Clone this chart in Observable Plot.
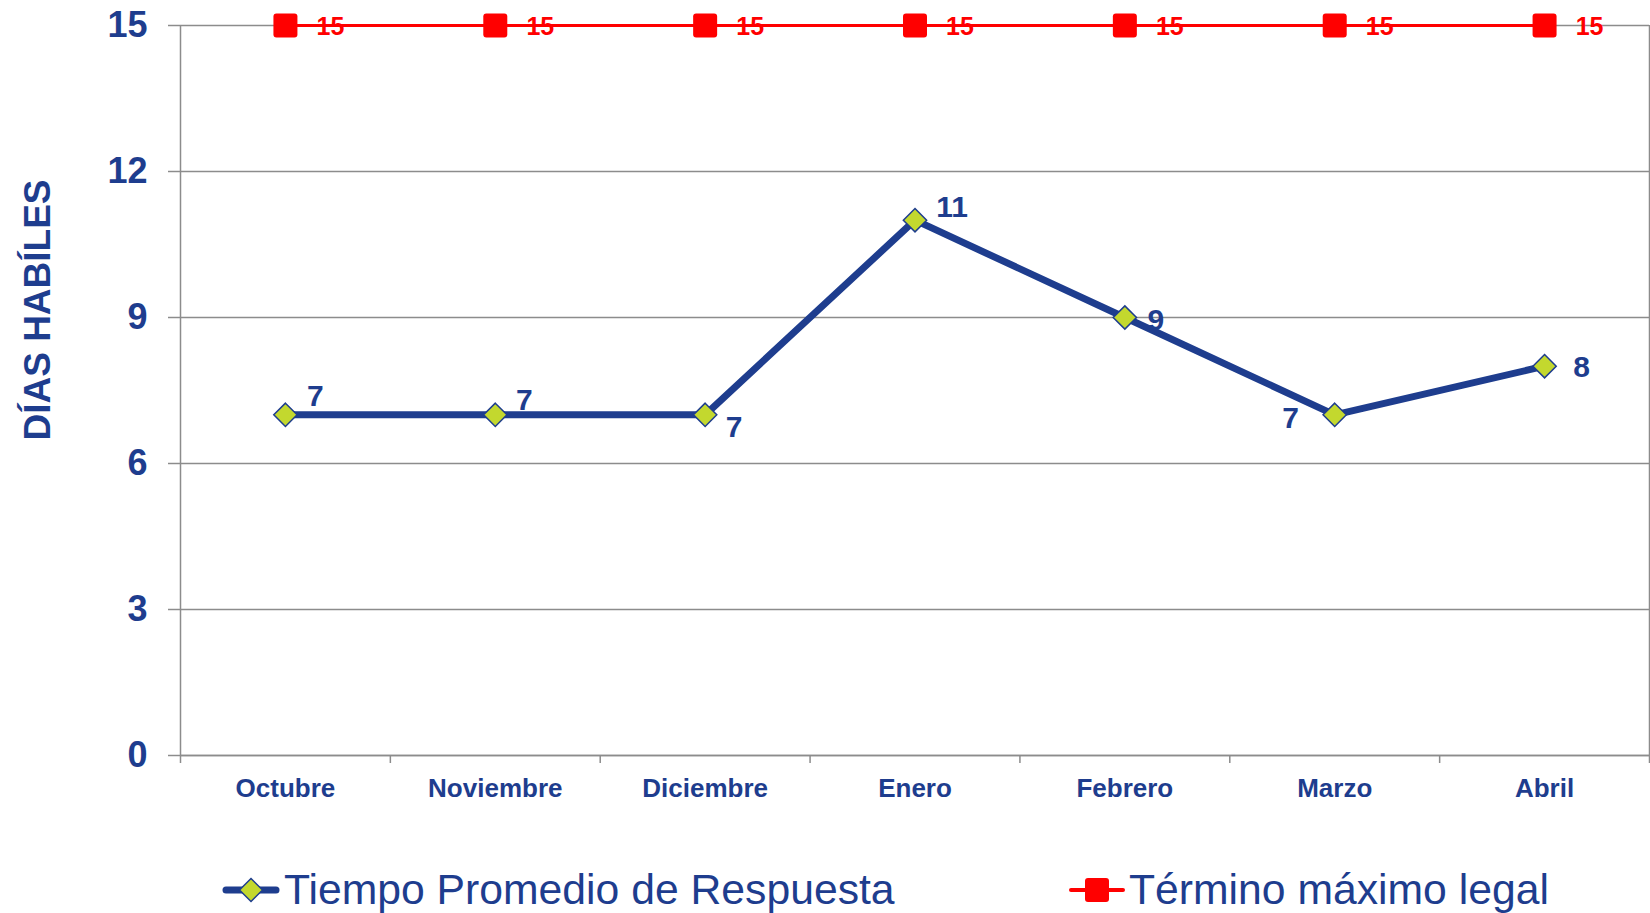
<!DOCTYPE html>
<html><head><meta charset="utf-8">
<script src="https://cdn.jsdelivr.net/npm/d3@7"></script>
<script src="https://cdn.jsdelivr.net/npm/@observablehq/plot@0.6"></script>
<style>
body{margin:0;background:#fff;font-family:"Liberation Sans",Arial,sans-serif;}
#wrap{position:relative;width:1650px;height:913px;overflow:hidden;background:#fff;}
#chart{position:absolute;left:0;top:0;}
#ytitle{position:absolute;left:37px;top:310px;transform:translate(-50%,-50%) rotate(-90deg);font-size:37px;font-weight:bold;color:#1e3d8e;white-space:nowrap;line-height:1;}
.legsym{position:absolute;top:876px;}
.legtxt{position:absolute;top:868px;font-size:42.7px;line-height:42px;color:#1e3d8e;white-space:nowrap;}
</style>
</head><body>
<div id="wrap">
  <div id="chart"></div>
  <div id="ytitle">DÍAS HABÍLES</div>
  <svg class="legsym" style="left:222px" width="58" height="28">
    <line x1="4" y1="14" x2="54" y2="14" stroke="#1e3d8e" stroke-width="7" stroke-linecap="round"/>
    <path d="M29,2.5L40.5,14L29,25.5L17.5,14Z" fill="#c3d82e" stroke="#1e3d8e" stroke-width="1.5"/>
  </svg>
  <div class="legtxt" id="leg1" style="left:284px"></div>
  <svg class="legsym" style="left:1068px" width="58" height="28">
    <line x1="3" y1="14" x2="55" y2="14" stroke="#ff0000" stroke-width="4" stroke-linecap="round"/>
    <rect x="17" y="2" width="24" height="24" rx="3" fill="#ff0000"/>
  </svg>
  <div class="legtxt" id="leg2" style="left:1129px"></div>
</div>
<script>
// ---- data ----
const months = ["Octubre", "Noviembre", "Diciembre", "Enero", "Febrero", "Marzo", "Abril"];
const tiempo = [7, 7, 7, 11, 9, 7, 8];
const termino = [15, 15, 15, 15, 15, 15, 15];
const yTicks = [0, 3, 6, 9, 12, 15];
const seriesNames = ["Tiempo Promedio de Respuesta", "Término máximo legal"];

// ---- layout (label placement offsets, px) ----
const tiempoLabelOffsets = [[30, -18], [29, -14], [29, 13], [37, -13], [31, 3], [-44, 4], [37, 1]];

const BLUE = "#1e3d8e", RED = "#ff0000", GRID = "#8c8c8c", LIME = "#c3d82e";
const tData = months.map((m, i) => ({m, i, v: tiempo[i]}));
const rData = months.map((m, i) => ({m, i, v: termino[i]}));
const X = d => d.i + 0.5;

const roundedSquare = {
  draw(ctx, size) {
    const h = Math.sqrt(size / Math.PI), r = 3;
    ctx.moveTo(-h + r, -h);
    ctx.lineTo(h - r, -h); ctx.arcTo(h, -h, h, -h + r, r);
    ctx.lineTo(h, h - r); ctx.arcTo(h, h, h - r, h, r);
    ctx.lineTo(-h + r, h); ctx.arcTo(-h, h, -h, h - r, r);
    ctx.lineTo(-h, -h + r); ctx.arcTo(-h, -h, -h + r, -h, r);
    ctx.closePath();
  }
};

const chart = Plot.plot({
  width: 1650,
  height: 830,
  marginTop: 25,
  marginBottom: 75,
  marginLeft: 180,
  marginRight: 1,
  style: {fontFamily: '"Liberation Sans", Arial, sans-serif', background: "white"},
  x: {type: "linear", domain: [0, months.length]},
  y: {domain: [0, 15]},
  marks: [
    Plot.gridY({ticks: yTicks, stroke: GRID, strokeOpacity: 1, strokeWidth: 1.5}),
    Plot.ruleX([0, months.length], {stroke: GRID, strokeWidth: 1.5}),
    Plot.ruleY([0], {stroke: GRID, strokeWidth: 1.5}),
    Plot.axisY({ticks: yTicks, tickSize: 12, tickFormat: () => "", color: GRID, strokeWidth: 1.5, label: null}),
    Plot.axisY({ticks: yTicks, tickSize: 0, tickPadding: 33, color: BLUE, fontSize: 36, fontWeight: "bold", label: null}),
    Plot.axisX({ticks: d3.range(0, months.length + 1), tickSize: 8, tickFormat: () => "", color: GRID, strokeWidth: 1.5, label: null}),
    Plot.axisX({ticks: months.map((_, i) => i + 0.5), tickSize: 0, tickPadding: 23, tickFormat: t => months[Math.floor(t)], color: BLUE, fontSize: 26, fontWeight: "bold", label: null}),
    // Término máximo legal
    Plot.line(rData, {x: X, y: "v", stroke: RED, strokeWidth: 3}),
    Plot.text(rData, {x: X, y: "v", text: d => String(d.v), dx: 45, dy: 1, fill: RED, fontSize: 25, fontWeight: "bold"}),
    Plot.dot(rData, {x: X, y: "v", r: 12, symbol: roundedSquare, fill: RED, stroke: "none"}),
    // Tiempo Promedio de Respuesta
    Plot.line(tData, {x: X, y: "v", stroke: BLUE, strokeWidth: 7}),
    Plot.dot(tData, {x: X, y: "v", r: 10.5, symbol: "diamond2", fill: LIME, stroke: BLUE, strokeWidth: 1.5}),
    ...tData.map((d, k) => Plot.text([d], {
      x: X, y: "v", text: e => String(e.v),
      dx: tiempoLabelOffsets[k][0], dy: tiempoLabelOffsets[k][1],
      fill: BLUE, fontSize: 30, fontWeight: "bold"
    }))
  ]
});
document.getElementById("chart").appendChild(chart);
document.getElementById("leg1").textContent = seriesNames[0];
document.getElementById("leg2").textContent = seriesNames[1];
</script>
</body></html>
